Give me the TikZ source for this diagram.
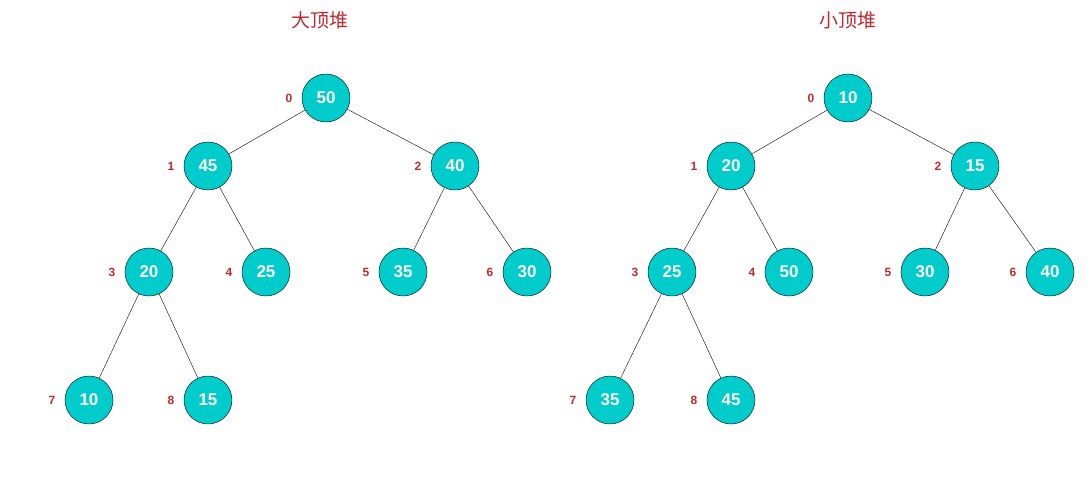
\documentclass[tikz,border=0pt]{standalone}
\usepackage{fontspec}
\setmainfont{Liberation Sans}
\newfontfamily\cjk{Noto Sans CJK SC}
\usetikzlibrary{positioning}
\definecolor{heapfill}{RGB}{0,204,204}
\definecolor{idxred}{RGB}{192,40,46}
\begin{document}
\begin{tikzpicture}[x=1pt, y=-1pt,
    key/.style = {circle, draw=black, fill=heapfill, minimum size=48pt, inner sep=0pt,
                  text=white, font=\fontsize{17}{17}\selectfont\bfseries},
    idx/.style = {text=idxred, font=\fontsize{12}{12}\selectfont\bfseries, label distance=6pt},
    title/.style = {text=idxred, font=\cjk\fontsize{19}{19}\selectfont}]
  \useasboundingbox (0,0) rectangle (1090,477);
  % big-top heap
  \node[title] (tmax) at (320,20) {大顶堆};
  \node[key, label={[idx]left:0}] (a0) at (326,98) {50};
  \node[key, label={[idx]left:1}] (a1) at (208,166) {45};
  \node[key, label={[idx]left:2}] (a2) at (455,166) {40};
  \node[key, label={[idx]left:3}] (a3) at (149,272) {20};
  \node[key, label={[idx]left:4}] (a4) at (266,272) {25};
  \node[key, label={[idx]left:5}] (a5) at (403,272) {35};
  \node[key, label={[idx]left:6}] (a6) at (527,272) {30};
  \node[key, label={[idx]left:7}] (a7) at (89,400) {10};
  \node[key, label={[idx]left:8}] (a8) at (208,400) {15};
  \draw (a0) -- (a1) (a0) -- (a2) (a1) -- (a3) (a1) -- (a4)
        (a2) -- (a5) (a2) -- (a6) (a3) -- (a7) (a3) -- (a8);
  % small-top heap
  \node[title] (tmin) at (848,20) {小顶堆};
  \node[key, label={[idx]left:0}] (b0) at (848,98) {10};
  \node[key, label={[idx]left:1}] (b1) at (731,166) {20};
  \node[key, label={[idx]left:2}] (b2) at (975,166) {15};
  \node[key, label={[idx]left:3}] (b3) at (672,272) {25};
  \node[key, label={[idx]left:4}] (b4) at (789,272) {50};
  \node[key, label={[idx]left:5}] (b5) at (925,272) {30};
  \node[key, label={[idx]left:6}] (b6) at (1050,272) {40};
  \node[key, label={[idx]left:7}] (b7) at (610,400) {35};
  \node[key, label={[idx]left:8}] (b8) at (731,400) {45};
  \draw (b0) -- (b1) (b0) -- (b2) (b1) -- (b3) (b1) -- (b4)
        (b2) -- (b5) (b2) -- (b6) (b3) -- (b7) (b3) -- (b8);
\end{tikzpicture}
\end{document}
